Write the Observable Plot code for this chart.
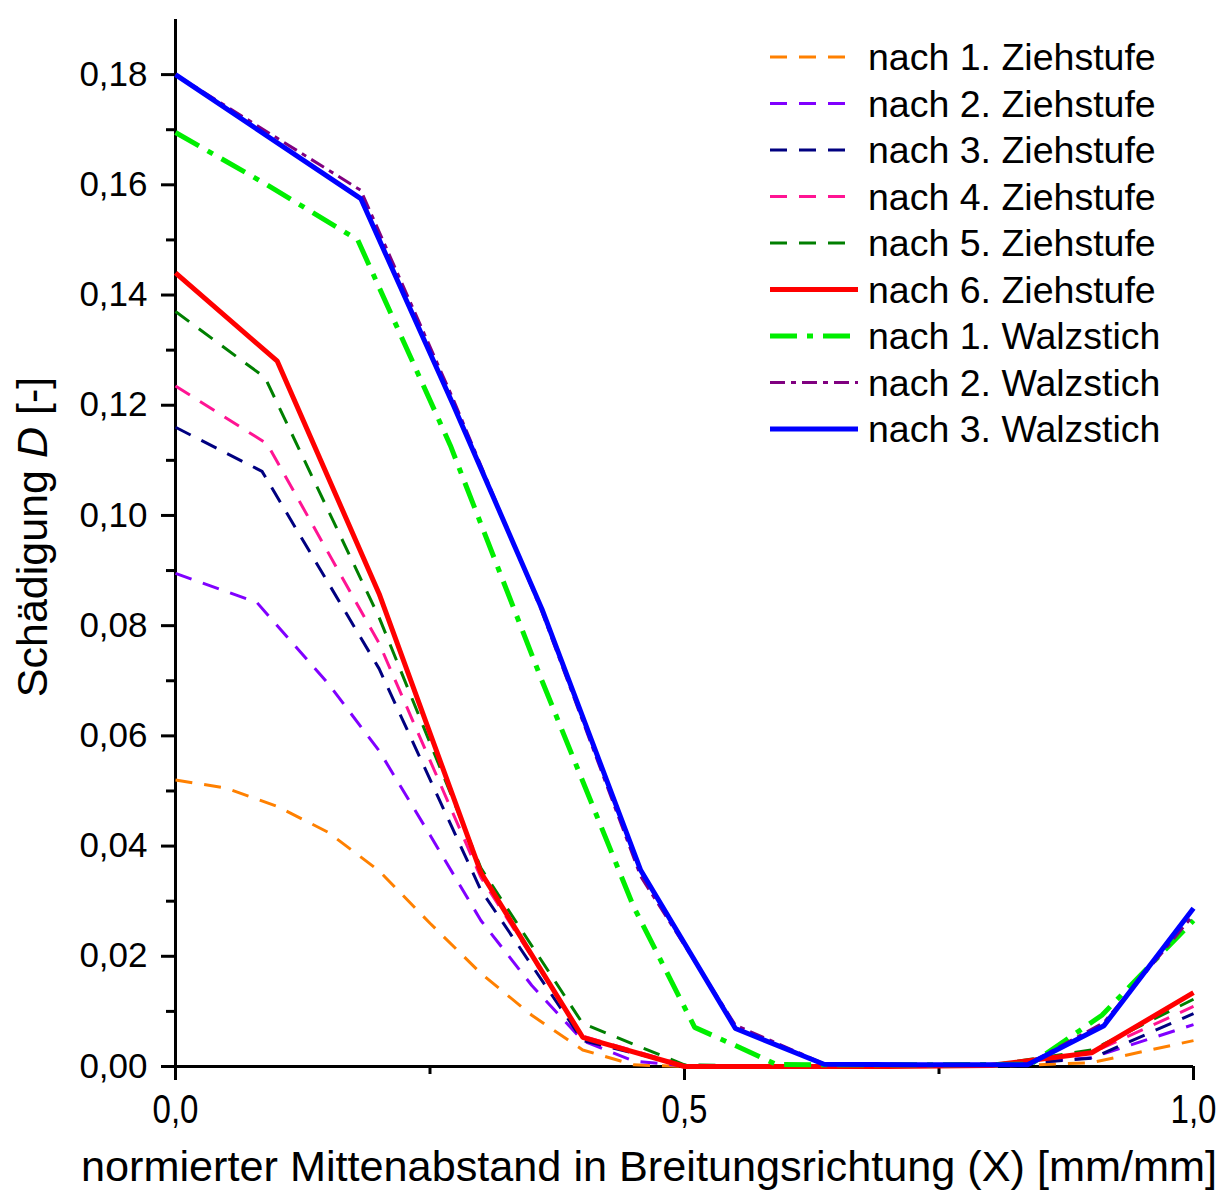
<!DOCTYPE html>
<html>
<head>
<meta charset="utf-8">
<script src="https://cdn.jsdelivr.net/npm/d3@7"></script>
<script src="https://cdn.jsdelivr.net/npm/@observablehq/plot@0.6"></script>
<style>
  html, body { margin: 0; padding: 0; background: #fff; }
  svg { display: block; }
</style>
</head>
<body>
<div id="chart"></div>
<script>
// ---- Data ----
const seriesNames = [
  "nach 1. Ziehstufe", "nach 2. Ziehstufe", "nach 3. Ziehstufe",
  "nach 4. Ziehstufe", "nach 5. Ziehstufe", "nach 6. Ziehstufe",
  "nach 1. Walzstich", "nach 2. Walzstich", "nach 3. Walzstich"
];

const xZ1 = [0, 0.05, 0.1, 0.15, 0.2, 0.25, 0.3, 0.35, 0.4, 0.45, 0.5, 0.6, 0.7, 0.8, 0.9, 1.0];
const dZ1 = [0.052, 0.0505, 0.0472, 0.0425, 0.0355, 0.026, 0.0169, 0.0093, 0.003, 0.0003, 0, 0, 0, 0, 0.0007, 0.0047];

const xZ2 = [0, 0.08, 0.15, 0.2, 0.25, 0.3, 0.35, 0.4, 0.45, 0.5, 0.6, 0.7, 0.8, 0.9, 1.0];
const dZ2 = [0.0895, 0.0842, 0.0695, 0.0573, 0.042, 0.0265, 0.0147, 0.0047, 0.001, 0.0001, 0, 0, 0.0001, 0.0016, 0.0076];

const xZ3 = [0, 0.085, 0.2, 0.3, 0.4, 0.5, 0.6, 0.7, 0.8, 0.9, 1.0];
const dZ3 = [0.116, 0.108, 0.0722, 0.032, 0.0047, 0.0002, 0, 0, 0.0001, 0.0015, 0.0096];

const xZ4 = [0, 0.09, 0.2, 0.3, 0.4, 0.5, 0.6, 0.7, 0.8, 0.9, 1.0];
const dZ4 = [0.1235, 0.113, 0.0768, 0.0343, 0.0055, 0.0002, 0, 0, 0.0002, 0.0025, 0.0109];

const xZ5 = [0, 0.088, 0.2, 0.3, 0.4, 0.5, 0.6, 0.7, 0.8, 0.9, 1.0];
const dZ5 = [0.137, 0.125, 0.0815, 0.036, 0.0078, 0.0003, 0, 0, 0.0002, 0.003, 0.0122];

const xZ6 = [0, 0.1, 0.2, 0.3, 0.4, 0.5, 0.6, 0.7, 0.8, 0.9, 1.0];
const dZ6 = [0.144, 0.128, 0.0858, 0.0352, 0.0053, 0, 0, 0, 0.0002, 0.0025, 0.0134];

const xW1 = [0, 0.09, 0.179, 0.27, 0.36, 0.45, 0.51, 0.55, 0.59, 0.64, 0.73, 0.84, 0.91, 1.0];
const dW1 = [0.1695, 0.160, 0.150, 0.1127, 0.070, 0.029, 0.0071, 0.0038, 0.0004, 0.0003, 0.0003, 0.0004, 0.0093, 0.0265];

const xW2 = [0, 0.182, 0.273, 0.36, 0.457, 0.55, 0.637, 0.73, 0.837, 0.912, 1.0];
const dW2 = [0.180, 0.159, 0.121, 0.0825, 0.0345, 0.0075, 0.0005, 0.0003, 0.0004, 0.0080, 0.0275];

const xW3 = [0, 0.182, 0.273, 0.36, 0.457, 0.55, 0.637, 0.73, 0.837, 0.912, 1.0];
const dW3 = [0.180, 0.1575, 0.120, 0.083, 0.0356, 0.0069, 0.0004, 0.0003, 0.0003, 0.0074, 0.0287];

const yMajorTicks = [0, 0.02, 0.04, 0.06, 0.08, 0.10, 0.12, 0.14, 0.16, 0.18];
const yMinorTicks = [0.01, 0.03, 0.05, 0.07, 0.09, 0.11, 0.13, 0.15, 0.17];
const xMajorTicks = [0, 0.5, 1.0];
const xMinorTicks = [0.25, 0.75];

const xTitle = "normierter Mittenabstand in Breitungsrichtung (X) [mm/mm]";

// ---- Styles ----
const styles = [
  {stroke: "#ff8000", width: 3, dash: "17,12"},
  {stroke: "#8000ff", width: 3, dash: "17,12"},
  {stroke: "#000080", width: 3, dash: "17,12"},
  {stroke: "#ff1493", width: 3, dash: "17,12"},
  {stroke: "#007f00", width: 3, dash: "17,12"},
  {stroke: "#ff0000", width: 5, dash: null},
  {stroke: "#00ee00", width: 5, dash: "27,10,6,10"},
  {stroke: "#800080", width: 3, dash: "15,6,5,6"},
  {stroke: "#0000ff", width: 5, dash: null}
];

const xs = [xZ1, xZ2, xZ3, xZ4, xZ5, xZ6, xW1, xW2, xW3];
const ds = [dZ1, dZ2, dZ3, dZ4, dZ5, dZ6, dW1, dW2, dW3];

const seriesData = seriesNames.map((name, k) =>
  xs[k].map((x, i) => ({series: name, x, d: ds[k][i]}))
);

const fmtY = d => d.toFixed(2).replace(".", ",");
const fmtX = d => d.toFixed(1).replace(".", ",");

const lineMarks = seriesData.map((data, k) => Plot.line(data, {
  x: "x", y: "d",
  stroke: styles[k].stroke,
  strokeWidth: styles[k].width,
  strokeDasharray: styles[k].dash || undefined,
  strokeLinecap: "butt",
  strokeLinejoin: "miter",
  curve: "linear"
}));

const chart = Plot.plot({
  width: 1224,
  height: 1192,
  marginLeft: 175,
  marginRight: 31,
  marginTop: 19,
  marginBottom: 126,
  style: {fontFamily: "'Liberation Sans', Arial, Helvetica, sans-serif", color: "#000", background: "#fff", overflow: "visible"},
  x: {domain: [0, 1]},
  y: {domain: [0, 0.19]},
  marks: [
    Plot.axisY({ticks: yMajorTicks, tickSize: 14, tickPadding: 14, tickFormat: fmtY, fontSize: 35, strokeWidth: 3, label: null}),
    Plot.axisY({ticks: yMinorTicks, tickSize: 9, tickFormat: () => "", strokeWidth: 3, label: null}),
    Plot.axisX({ticks: xMajorTicks, tickSize: 14, tickPadding: 14, tickFormat: fmtX, fontSize: 40, strokeWidth: 3, label: null}),
    Plot.axisX({ticks: xMinorTicks, tickSize: 8, tickFormat: () => "", strokeWidth: 3, label: null}),
    Plot.ruleX([0], {y1: 0, y2: 0.19, stroke: "#000", strokeWidth: 3}),
    Plot.ruleY([0], {x1: 0, x2: 1, stroke: "#000", strokeWidth: 3}),
    ...lineMarks
  ]
});

document.getElementById("chart").appendChild(chart);

const svg = d3.select(chart);

// condensed x tick labels like the reference
svg.selectAll('g[aria-label="x-axis tick label"] text')
  .attr("textLength", 46)
  .attr("lengthAdjust", "spacingAndGlyphs");

// axis titles
svg.append("text")
  .attr("x", 649)
  .attr("y", 1181)
  .attr("text-anchor", "middle")
  .attr("font-size", 42)
  .attr("textLength", 1136)
  .attr("lengthAdjust", "spacingAndGlyphs")
  .attr("fill", "#000")
  .text(xTitle);

const yTitle = svg.append("text")
  .attr("transform", "translate(47,537) rotate(-90)")
  .attr("text-anchor", "middle")
  .attr("font-size", 43)
  .attr("fill", "#000");
yTitle.append("tspan").text("Schädigung ");
yTitle.append("tspan").attr("font-style", "italic").text("D");
yTitle.append("tspan").text(" [-]");

// legend
const legend = svg.append("g").attr("aria-label", "legend");
seriesNames.forEach((name, k) => {
  const cy = 57 + k * 46.5;
  const st = styles[k];
  const dashed = st.dash === "17,12";
  legend.append("line")
    .attr("x1", 770).attr("x2", dashed ? 847 : 858)
    .attr("y1", cy).attr("y2", cy)
    .attr("stroke", st.stroke)
    .attr("stroke-width", st.width)
    .attr("stroke-dasharray", st.dash || null);
  legend.append("text")
    .attr("x", 868)
    .attr("y", cy + 13)
    .attr("text-anchor", "start")
    .attr("font-size", 37.5)
    .attr("fill", "#000")
    .text(name);
});
</script>
</body>
</html>
